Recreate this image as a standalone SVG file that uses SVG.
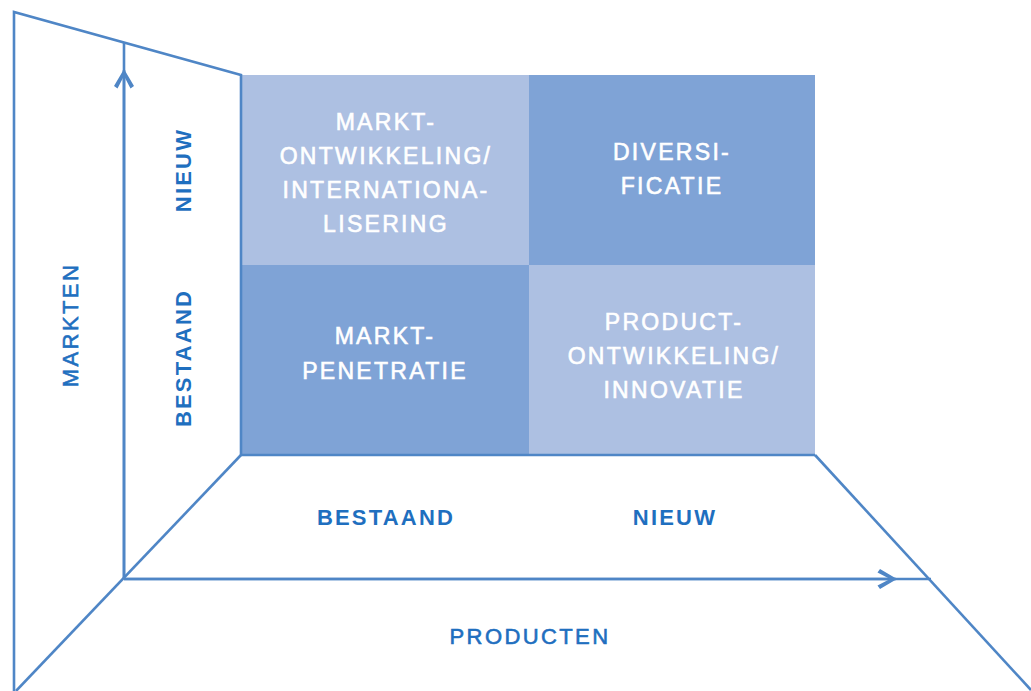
<svg xmlns="http://www.w3.org/2000/svg" width="1031" height="691" viewBox="0 0 1031 691">
<defs>
<style>
.ln{stroke:#4F86C6;stroke-width:2.6;fill:none;stroke-linejoin:miter}
.ax{font-family:"Liberation Sans",Arial,sans-serif;font-size:22px;fill:#1F6FBF;stroke:#1F6FBF;stroke-width:0.6;letter-spacing:2.4px;text-anchor:middle}
.b{font-weight:bold;stroke-width:0;letter-spacing:2.2px}
.ct{font-family:"Liberation Sans",Arial,sans-serif;font-size:23px;fill:#FFFFFF;stroke:#FFFFFF;stroke-width:0.6;letter-spacing:2.3px;text-anchor:middle}
.light{fill:#ADC0E2}
.dark{fill:#7FA3D6}
</style>
<marker id="ah" viewBox="0 0 24 24" refX="20" refY="12" markerWidth="24" markerHeight="24" markerUnits="userSpaceOnUse" orient="auto">
<path d="M21,12 L4,2 L1.5,5.5 L14,12 L1.5,18.5 L4,22 Z" fill="#4F86C6"/>
</marker>
</defs>
<rect width="1031" height="691" fill="#FFFFFF"/>
<g id="cell-markt-ontwikkeling">
<rect class="light" x="241" y="75" width="288" height="190"/>
<text class="ct" x="386" y="130">MARKT-</text>
<text class="ct" x="386" y="164">ONTWIKKELING/</text>
<text class="ct" x="386" y="198">INTERNATIONA-</text>
<text class="ct" x="386" y="232">LISERING</text>
</g>
<g id="cell-diversificatie">
<rect class="dark" x="529" y="75" width="286" height="190"/>
<text class="ct" x="672" y="160">DIVERSI-</text>
<text class="ct" x="672" y="194">FICATIE</text>
</g>
<g id="cell-marktpenetratie">
<rect class="dark" x="241" y="265" width="288" height="190"/>
<text class="ct" x="385" y="344">MARKT-</text>
<text class="ct" x="385" y="379">PENETRATIE</text>
</g>
<g id="cell-productontwikkeling">
<rect class="light" x="529" y="265" width="286" height="190"/>
<text class="ct" x="674" y="330">PRODUCT-</text>
<text class="ct" x="674" y="364">ONTWIKKELING/</text>
<text class="ct" x="674" y="398">INNOVATIE</text>
</g>
<g id="connectors">
<polyline class="ln" points="14,691 14,12 241,75 241,455"/>
<line class="ln" x1="16" y1="691" x2="241" y2="455"/>
<line class="ln" x1="241" y1="455" x2="815" y2="455"/>
<line class="ln" x1="815" y1="455" x2="1031" y2="690"/>
<line class="ln" x1="124" y1="579" x2="124" y2="43"/>
<line class="ln" x1="124" y1="579" x2="124" y2="70" marker-end="url(#ah)"/>
<line class="ln" x1="124" y1="579" x2="931" y2="579"/>
<line class="ln" x1="124" y1="579" x2="896" y2="579" marker-end="url(#ah)"/>
</g>
<g id="labels">
<text class="ax" transform="translate(78,325) rotate(-90)">MARKTEN</text>
<text class="ax b" transform="translate(191,170) rotate(-90)">NIEUW</text>
<text class="ax b" transform="translate(191,358) rotate(-90)">BESTAAND</text>
<text class="ax b" x="386" y="525">BESTAAND</text>
<text class="ax b" x="675" y="525">NIEUW</text>
<text class="ax" x="530" y="644">PRODUCTEN</text>
</g>
</svg>
